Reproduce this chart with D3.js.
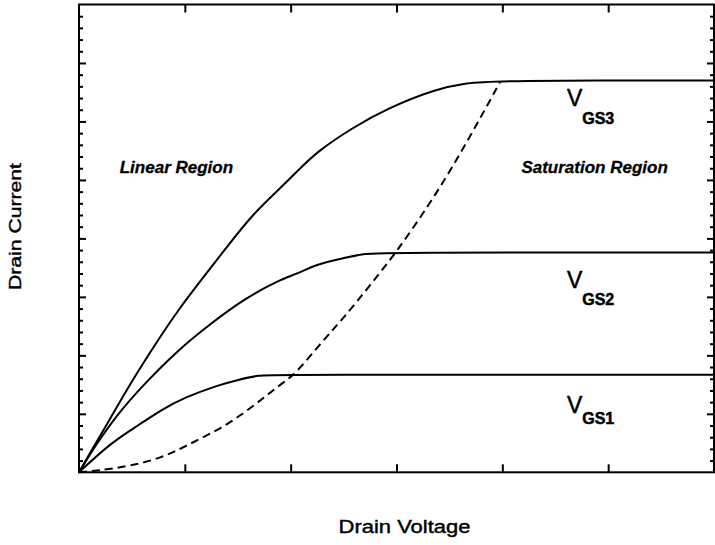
<!DOCTYPE html>
<html>
<head>
<meta charset="utf-8">
<script src="https://cdn.jsdelivr.net/npm/d3@7"></script>
<style>
  html, body { margin: 0; padding: 0; background: #fff; }
  svg { display: block; font-family: "Liberation Sans", Arial, Helvetica, sans-serif; }
</style>
</head>
<body>
<svg id="chart" width="715" height="545"></svg>
<script>
// ---- data (in axis units) ----
const xMajorTicks = [1, 2, 3, 4, 5];
const yMajorTicks = [1, 2, 3, 4, 5, 6, 7];

const vgs1X = [0, 0.305, 0.557, 0.778, 0.999, 1.313, 1.502, 1.707, 1.85, 6];
const vgs1Y = [0, 0.51, 0.80, 1.07, 1.28, 1.49, 1.58, 1.665, 1.67, 1.67];

const vgs2X = [0, 0.148, 0.369, 0.621, 0.935, 1.25, 1.566, 1.88, 2.07, 2.246, 2.497, 2.686, 2.875, 6];
const vgs2Y = [0, 0.44, 1.01, 1.52, 2.09, 2.55, 2.97, 3.28, 3.40, 3.56, 3.66, 3.74, 3.76, 3.76];

const vgs3X = [0, 0.085, 0.305, 0.526, 0.746, 0.935, 1.156, 1.408, 1.66, 1.88, 2.069, 2.246, 2.592, 2.908, 3.38, 3.663, 3.947, 6];
const vgs3Y = [0, 0.27, 0.95, 1.64, 2.26, 2.77, 3.29, 3.88, 4.45, 4.82, 5.16, 5.48, 5.90, 6.22, 6.56, 6.66, 6.70, 6.70];

const boundaryX = [0, 0.18, 0.463, 0.778, 1.03, 1.345, 1.628, 1.912, 2.038, 2.308, 2.497, 2.75, 3.002, 3.317, 3.569, 3.789, 3.978];
const boundaryY = [0, 0.03, 0.10, 0.24, 0.47, 0.75, 1.10, 1.52, 1.665, 2.26, 2.63, 3.20, 3.77, 4.60, 5.34, 6.05, 6.67];

const regionNames = ["Linear Region", "Saturation Region"];
const curveNames = ["GS1", "GS2", "GS3"];
const xTitle = "Drain Voltage";
const yTitle = "Drain Current";

// ---- layout ----
const L = 79, R = 714, T = 4.5, B = 472.3;
const svg = d3.select("#chart");
const x = d3.scaleLinear().domain([0, 6]).range([L, R]);
const y = d3.scaleLinear().domain([0, 8]).range([B, T]);

const yMinorTicks = d3.range(1, 40).map(i => i / 5).filter(v => Math.abs(v - Math.round(v)) > 1e-6);

function cleanAxis(g) {
  g.select(".domain").remove();
  g.selectAll("text").remove();
  g.selectAll("line").attr("stroke", "#000").attr("stroke-width", 2);
}

// left axis ticks (inward)
svg.append("g").attr("transform", `translate(${L},0)`)
  .call(d3.axisLeft(y).tickValues(yMajorTicks).tickSize(-7)).call(cleanAxis);
svg.append("g").attr("transform", `translate(${L},0)`)
  .call(d3.axisLeft(y).tickValues(yMinorTicks).tickSize(-4)).call(cleanAxis);
// right axis ticks (inward)
svg.append("g").attr("transform", `translate(${R},0)`)
  .call(d3.axisRight(y).tickValues(yMajorTicks).tickSize(-7)).call(cleanAxis);
svg.append("g").attr("transform", `translate(${R},0)`)
  .call(d3.axisRight(y).tickValues(yMinorTicks).tickSize(-4)).call(cleanAxis);
// bottom / top ticks (inward)
svg.append("g").attr("transform", `translate(0,${B})`)
  .call(d3.axisBottom(x).tickValues(xMajorTicks).tickSize(-8)).call(cleanAxis);
svg.append("g").attr("transform", `translate(0,${T})`)
  .call(d3.axisTop(x).tickValues(xMajorTicks).tickSize(-8)).call(cleanAxis);

// frame
svg.append("rect")
  .attr("x", L).attr("y", T).attr("width", R - L).attr("height", B - T)
  .attr("fill", "none").attr("stroke", "#000").attr("stroke-width", 2);

// curves
const line = d3.line().x(d => x(d[0])).y(d => y(d[1])).curve(d3.curveBasis);
const series = [[vgs1X, vgs1Y], [vgs2X, vgs2Y], [vgs3X, vgs3Y]];
series.forEach(([xs, ys]) => {
  svg.append("path")
    .datum(xs.map((v, i) => [v, ys[i]]))
    .attr("d", line)
    .attr("fill", "none").attr("stroke", "#000").attr("stroke-width", 2);
});
svg.append("path")
  .datum(boundaryX.map((v, i) => [v, boundaryY[i]]))
  .attr("d", line)
  .attr("fill", "none").attr("stroke", "#000").attr("stroke-width", 2)
  .attr("stroke-dasharray", "8,5");

// region labels
const regionPos = [[0.385, 5.12], [4.18, 5.11]];
regionNames.forEach((t, i) => {
  svg.append("text")
    .attr("x", x(regionPos[i][0])).attr("y", y(regionPos[i][1]))
    .attr("font-size", 17).attr("font-weight", "bold").attr("font-style", "italic")
    .attr("fill", "#000").attr("stroke", "#000").attr("stroke-width", 0.3).text(t);
});

// V_GS labels
const vBase = [413.3, 288.3, 106];
const subDrop = [11, 17, 18];
curveNames.forEach((t, i) => {
  const tx = svg.append("text")
    .attr("x", x(4.61)).attr("y", vBase[i]).attr("fill", "#000")
    .attr("stroke", "#000").attr("stroke-width", 0.5);
  tx.append("tspan").attr("font-size", 23).text("V");
  tx.append("tspan").attr("font-size", 16).attr("font-weight", "bold")
    .attr("dy", subDrop[i]).text(t);
});

// axis titles
svg.append("text")
  .attr("x", 404.5).attr("y", 533).attr("text-anchor", "middle")
  .attr("font-size", 18).attr("textLength", 132).attr("lengthAdjust", "spacingAndGlyphs")
  .attr("fill", "#000").attr("stroke", "#000").attr("stroke-width", 0.4).text(xTitle);
svg.append("text")
  .attr("transform", "translate(21,226.5) rotate(-90)").attr("text-anchor", "middle")
  .attr("font-size", 16).attr("textLength", 127).attr("lengthAdjust", "spacingAndGlyphs")
  .attr("fill", "#000").attr("stroke", "#000").attr("stroke-width", 0.4).text(yTitle);
</script>
</body>
</html>
